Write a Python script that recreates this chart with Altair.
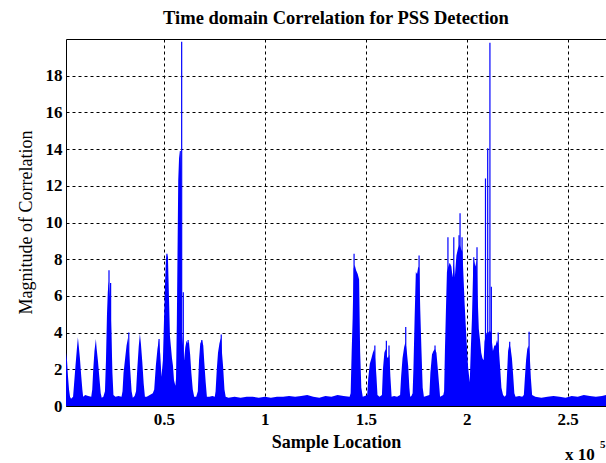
import altair as alt
import pandas as pd

# Sample location (in units of 1e5 samples) and envelope magnitude
env_x = [0.015, 0.02, 0.025, 0.03, 0.035, 0.04, 0.045,
         0.05, 0.055, 0.062, 0.068, 0.074, 0.078, 0.084, 0.09, 0.096, 0.10,
         0.11, 0.125, 0.14,
         0.145, 0.15, 0.156, 0.163, 0.167, 0.173, 0.18, 0.187, 0.192,
         0.20,
         0.208, 0.213, 0.218, 0.222, 0.226, 0.23, 0.235, 0.24, 0.245, 0.25,
         0.26, 0.275, 0.29,
         0.295, 0.30, 0.308, 0.315, 0.322, 0.327, 0.333, 0.34, 0.346,
         0.355,
         0.362, 0.368, 0.375, 0.381, 0.386, 0.393, 0.40, 0.406,
         0.415, 0.43, 0.445,
         0.452, 0.46, 0.468, 0.475, 0.482,
         0.488, 0.495, 0.50, 0.505, 0.51, 0.515, 0.52, 0.525, 0.53, 0.535, 0.54, 0.545, 0.55, 0.557,
         0.560, 0.564, 0.568, 0.571, 0.575, 0.579, 0.584, 0.587, 0.589, 0.593, 0.597,
         0.60, 0.606, 0.612, 0.618, 0.624, 0.63, 0.636, 0.643, 0.65,
         0.66,
         0.668, 0.674, 0.68, 0.688, 0.695, 0.70, 0.707, 0.713,
         0.725, 0.74, 0.752,
         0.756, 0.762, 0.768, 0.775, 0.782, 0.787, 0.793, 0.80, 0.806,
         0.82, 0.85, 0.88, 0.91, 0.94, 0.97, 1.0, 1.03, 1.06, 1.09, 1.12, 1.15,
         1.18, 1.21, 1.24, 1.27, 1.30, 1.33, 1.36, 1.39, 1.42,
         1.425, 1.43, 1.435, 1.44, 1.445, 1.452, 1.46, 1.467, 1.472, 1.478, 1.485,
         1.495,
         1.507, 1.512, 1.52, 1.528, 1.535, 1.542, 1.548, 1.553, 1.558,
         1.568,
         1.58, 1.585, 1.592, 1.598, 1.605, 1.61, 1.617, 1.622, 1.628,
         1.64, 1.655,
         1.67, 1.675, 1.682, 1.69, 1.697, 1.703, 1.71, 1.716, 1.72,
         1.726,
         1.732, 1.736, 1.742, 1.748, 1.754, 1.76, 1.765, 1.77, 1.776, 1.782, 1.788,
         1.80,
         1.815, 1.82, 1.828, 1.835, 1.843, 1.85, 1.857, 1.863, 1.868,
         1.875, 1.884,
         1.888, 1.892, 1.897, 1.902, 1.909, 1.916, 1.924, 1.93, 1.936, 1.941,
         1.949, 1.957, 1.965, 1.974, 1.979, 1.985, 1.99, 1.999, 2.007, 2.015,
         2.02, 2.026, 2.032, 2.037, 2.043, 2.049, 2.054, 2.06, 2.066, 2.072, 2.078, 2.084,
         2.088, 2.093, 2.10, 2.107, 2.115, 2.12, 2.126,
         2.13, 2.137, 2.143, 2.15, 2.158, 2.165, 2.172, 2.18,
         2.188,
         2.195, 2.20, 2.205, 2.212, 2.218, 2.224, 2.23, 2.236, 2.242,
         2.26, 2.275,
         2.283, 2.288, 2.294, 2.30, 2.306, 2.312, 2.318, 2.324,
         2.34, 2.37, 2.40, 2.43, 2.46, 2.49, 2.52, 2.55, 2.58, 2.61, 2.64, 2.67, 2.69]

env_y = [2.9, 2.5, 1.6, 0.9, 0.5, 0.4, 0.45,
         0.5, 1.2, 2.2, 3.0, 3.75, 3.3, 2.6, 1.7, 0.9, 0.5,
         0.6, 0.55, 0.5,
         0.9, 2.0, 3.0, 3.65, 3.1, 2.5, 1.6, 0.7, 0.45,
         0.5,
         0.8, 2.5, 5.0, 6.2, 6.8, 6.3, 5.6, 4.0, 1.8, 0.6,
         0.5, 0.55, 0.5,
         0.8, 1.8, 2.6, 3.3, 3.7, 3.0, 2.0, 0.8, 0.45,
         0.55,
         0.8, 2.0, 3.2, 3.95, 3.4, 2.4, 1.2, 0.5,
         0.5, 0.6, 0.7,
         0.9, 2.2, 3.1, 3.6, 2.8,
         1.6, 2.5, 4.5, 6.5, 8.0, 8.25, 8.1, 6.0, 3.8, 3.2, 2.6, 2.2, 1.4, 1.1,
         1.5, 4.5, 9.0, 12.3, 13.5, 13.9, 13.9, 9.0, 4.0, 3.5, 3.0,
         2.5, 3.2, 3.55, 3.4, 3.5, 2.8, 1.8, 0.9, 0.5,
         0.5,
         0.8, 2.5, 3.4, 3.6, 3.3, 2.4, 1.3, 0.5,
         0.5, 0.55, 0.5,
         0.8, 2.0, 2.9, 3.4, 3.7, 3.0, 2.2, 0.9, 0.5,
         0.45, 0.5, 0.45, 0.5, 0.5, 0.45, 0.5, 0.45, 0.5, 0.5, 0.55, 0.5,
         0.55, 0.6, 0.5, 0.45, 0.55, 0.5, 0.6, 0.55, 0.5,
         0.7, 2.9, 4.8, 7.5, 7.7, 7.4, 7.2, 6.9, 3.0, 1.0, 0.5,
         0.55,
         0.6, 1.5, 2.3, 2.6, 2.9, 3.1, 2.4, 1.6, 0.6,
         0.5,
         0.6, 2.0, 2.9, 3.1, 2.7, 2.6, 2.8, 1.6, 0.5,
         0.55, 0.5,
         0.6, 1.6, 2.6, 3.2, 3.5, 3.0, 2.2, 1.0, 0.5,
         0.55,
         0.7, 2.0, 4.8, 7.3, 7.2, 7.6, 7.5, 5.2, 3.0, 1.0, 0.5,
         0.55,
         0.6, 1.8, 2.8, 3.0, 3.1, 2.9, 2.0, 1.2, 0.5,
         0.55, 0.6,
         0.8, 3.0, 5.2, 7.3, 7.6, 7.8, 7.6, 7.0, 7.8, 7.0,
         8.2, 8.6, 8.8, 8.5, 8.4, 6.8, 5.5, 3.6, 2.1, 1.3,
         3.0, 4.8, 7.5, 7.9, 7.6, 8.0, 6.0, 4.2, 3.6, 2.9, 2.6, 2.5,
         3.5, 3.8, 4.0, 4.0, 4.1, 4.0, 3.4,
         3.0, 3.3, 3.3, 3.6, 3.3, 2.2, 1.0, 0.6,
         0.5,
         0.6, 1.8, 3.0, 3.4, 3.1, 2.6, 1.7, 0.7, 0.5,
         0.55, 0.5,
         0.6, 1.5, 2.5, 3.1, 3.3, 2.8, 1.5, 0.6,
         0.5, 0.45, 0.5, 0.55, 0.5, 0.45, 0.55, 0.5, 0.6, 0.55, 0.5, 0.55, 0.6]

# Individual tall correlation peaks
spike_x = [0.228, 0.236, 0.326, 0.476, 0.515, 0.588, 0.596, 0.62, 0.688,
           0.784, 1.442, 1.545, 1.602, 1.615, 1.698, 1.764, 1.843,
           1.907, 1.936, 1.962, 1.967, 1.977, 2.035, 2.051,
           2.093, 2.104, 2.115, 2.122, 2.156, 2.213, 2.309]
spike_y = [7.4, 6.7, 4.0, 3.65, 8.3, 19.85, 6.2, 3.6, 3.6,
           3.9, 8.3, 3.3, 3.55, 3.3, 4.3, 8.2, 3.3,
           9.2, 9.2, 9.3, 10.5, 9.2, 8.1, 8.65,
           12.4, 14.05, 19.8, 6.5, 4.0, 3.5, 4.05]

x_ticks = [0.5, 1, 1.5, 2, 2.5]
y_ticks = [0, 2, 4, 6, 8, 10, 12, 14, 16, 18]

env = pd.DataFrame({"x": env_x, "y": env_y})
spikes = pd.DataFrame({"x": spike_x, "y": spike_y})

FONT = "Liberation Serif"
BLUE = "#0000ff"

xscale = alt.Scale(domain=[0.015, 2.69], nice=False, zero=False)
yscale = alt.Scale(domain=[0, 20], nice=False)

common_axis = dict(
    labelFont=FONT, labelFontSize=17, labelFontWeight="bold", labelColor="black",
    grid=True, gridColor="black", gridDash=[3, 3], gridWidth=1, gridOpacity=1,
    domain=False, ticks=False, tickSize=0,
)

xaxis = alt.Axis(values=x_ticks, title="Sample Location", labelExpr="format(datum.value, '')",
                 titleFont=FONT, titleFontSize=18, titleFontWeight="bold", titleColor="black",
                 titleBaseline="middle", titleY=36, titleX=270, labelPadding=5,
                 labelBaseline="top", **common_axis)
yaxis = alt.Axis(values=y_ticks, title="Magnitude of Correlation",
                 titleFont=FONT, titleFontSize=18, titleFontWeight="normal", titleColor="black",
                 titleAngle=270, titleBaseline="middle", titleAlign="center",
                 titleX=-40, titleY=183, labelPadding=4, **common_axis)

area = alt.Chart(env).mark_area(color=BLUE, interpolate="linear", opacity=1).encode(
    x=alt.X("x:Q", scale=xscale, axis=xaxis),
    y=alt.Y("y:Q", scale=yscale, axis=yaxis),
)

rules = alt.Chart(spikes).mark_rule(color=BLUE, strokeWidth=1.2).encode(
    x=alt.X("x:Q", scale=xscale),
    y=alt.Y("y:Q", scale=yscale),
    y2=alt.datum(0),
)

exp_base = alt.Chart(pd.DataFrame({"t": ["x 10"]})).mark_text(
    font=FONT, fontSize=17, fontWeight="bold", color="black", align="left", baseline="middle"
).encode(text="t:N", x=alt.value(499), y=alt.value(416))

exp_pow = alt.Chart(pd.DataFrame({"t": ["5"]})).mark_text(
    font=FONT, fontSize=11, fontWeight="bold", color="black", align="left", baseline="middle"
).encode(text="t:N", x=alt.value(534), y=alt.value(406))

chart = alt.layer(area, rules, exp_base, exp_pow).properties(
    width=540,
    height=367,
    background="white",
    title=alt.TitleParams(
        "Time domain Correlation for PSS Detection",
        font=FONT, fontSize=18.5, fontWeight="bold", color="black",
        anchor="middle", offset=12,
    ),
    autosize=alt.AutoSizeParams(type="none"),
    padding={"left": 66, "top": 39, "right": 0, "bottom": 57},
).configure_view(
    stroke="black", strokeWidth=1
)

chart.save("out.html", embed_options={"renderer": "svg", "actions": False})
